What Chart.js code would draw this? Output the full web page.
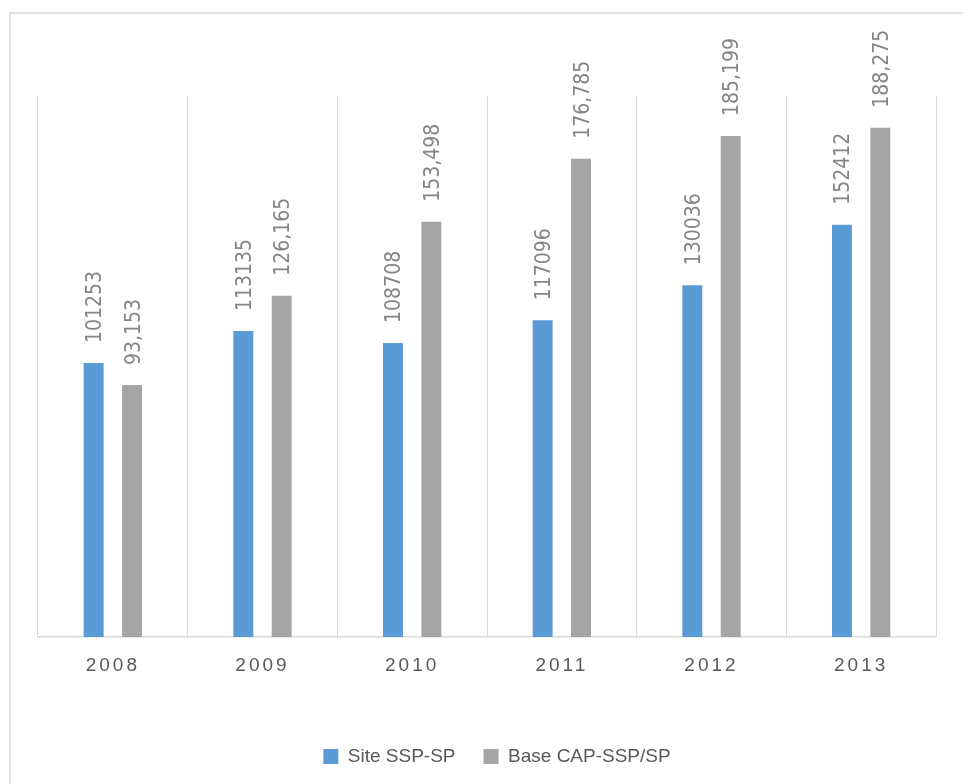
<!DOCTYPE html>
<html>
<head>
<meta charset="utf-8">
<script src="https://cdn.jsdelivr.net/npm/chart.js@4.4.1/dist/chart.umd.min.js"></script>
<style>
  html, body { margin: 0; padding: 0; background: #fff; overflow: hidden; }
  canvas { display: block; }
</style>
</head>
<body>
<canvas id="chart" width="963" height="784"></canvas>
<script>
// Data
const years = ['2008', '2009', '2010', '2011', '2012', '2013'];
const siteValues = [101253, 113135, 108708, 117096, 130036, 152412];
const baseValues = [93153, 126165, 153498, 176785, 185199, 188275];
const seriesNames = ['Site SSP-SP', 'Base CAP-SSP/SP'];
const yMax = 200000;

const BLUE = '#5B9BD5';
const GRAY = '#A5A5A5';
const LINE = '#D9D9D9';
const TEXT = '#595959';

// Blue labels have no thousands separator, gray ones do
const formatters = [
    v => String(v),
    v => v.toLocaleString('en-US')
];

// Outer frame of the chart object
const framePlugin = {
    id: 'frame',
    beforeDraw(chart) {
        const ctx = chart.ctx;
        ctx.save();
        ctx.strokeStyle = LINE;
        ctx.lineWidth = 1.5;
        ctx.strokeRect(10, 13, 2000, 2000);
        ctx.restore();
    }
};

// Spaced-out year labels on the category axis
const spacedTicksPlugin = {
    id: 'spacedTicks',
    beforeDraw(chart) {
        const x = chart.scales.x;
        if (!x || x._spaced) return;
        const orig = x.drawLabels;
        x.drawLabels = function(area) {
            const ctx = this.ctx;
            ctx.save();
            ctx.letterSpacing = '3px';
            orig.call(this, area);
            ctx.restore();
        };
        x._spaced = true;
    }
};

// Vertical value labels above each bar
const valueLabelsPlugin = {
    id: 'valueLabels',
    afterDatasetsDraw(chart) {
        const ctx = chart.ctx;
        ctx.save();
        ctx.font = '21px "Liberation Sans Narrow", "DejaVu Sans Condensed", sans-serif';
        ctx.fillStyle = '#858585';
        ctx.textAlign = 'left';
        ctx.textBaseline = 'alphabetic';
        chart.data.datasets.forEach((ds, di) => {
            const meta = chart.getDatasetMeta(di);
            meta.data.forEach((bar, i) => {
                ctx.save();
                ctx.translate(bar.x + 7.5, bar.y - 20);
                ctx.rotate(-Math.PI / 2);
                ctx.fillText(formatters[di](ds.data[i]), 0, 0);
                ctx.restore();
            });
        });
        ctx.restore();
    }
};

const ctx = document.getElementById('chart').getContext('2d');
new Chart(ctx, {
    type: 'bar',
    data: {
        labels: years,
        datasets: [
            { label: seriesNames[0], data: siteValues, backgroundColor: BLUE },
            { label: seriesNames[1], data: baseValues, backgroundColor: GRAY }
        ]
    },
    options: {
        responsive: false,
        animation: false,
        categoryPercentage: 0.513,
        barPercentage: 0.52,
        layout: { padding: { top: 96, left: 38, right: 7, bottom: 8 } },
        scales: {
            x: {
                grid: { color: LINE, lineWidth: 1, drawTicks: false },
                border: { color: LINE, width: 1.5 },
                ticks: {
                    color: TEXT,
                    padding: 17,
                    font: { family: '"Liberation Sans", Arial, sans-serif', size: 19 }
                },
                afterFit(scale) { scale.height = 82; }
            },
            y: {
                position: 'right',
                min: 0,
                max: yMax,
                grid: { display: false },
                border: { display: false },
                ticks: { display: false },
                afterFit(scale) { scale.width = 20; }
            }
        },
        plugins: {
            legend: {
                position: 'bottom',
                labels: {
                    color: TEXT,
                    boxWidth: 15,
                    boxHeight: 15,
                    padding: 28,
                    font: { family: '"Liberation Sans", Arial, sans-serif', size: 19 }
                }
            },
            tooltip: { enabled: false }
        }
    },
    plugins: [framePlugin, spacedTicksPlugin, valueLabelsPlugin]
});
</script>
</body>
</html>
